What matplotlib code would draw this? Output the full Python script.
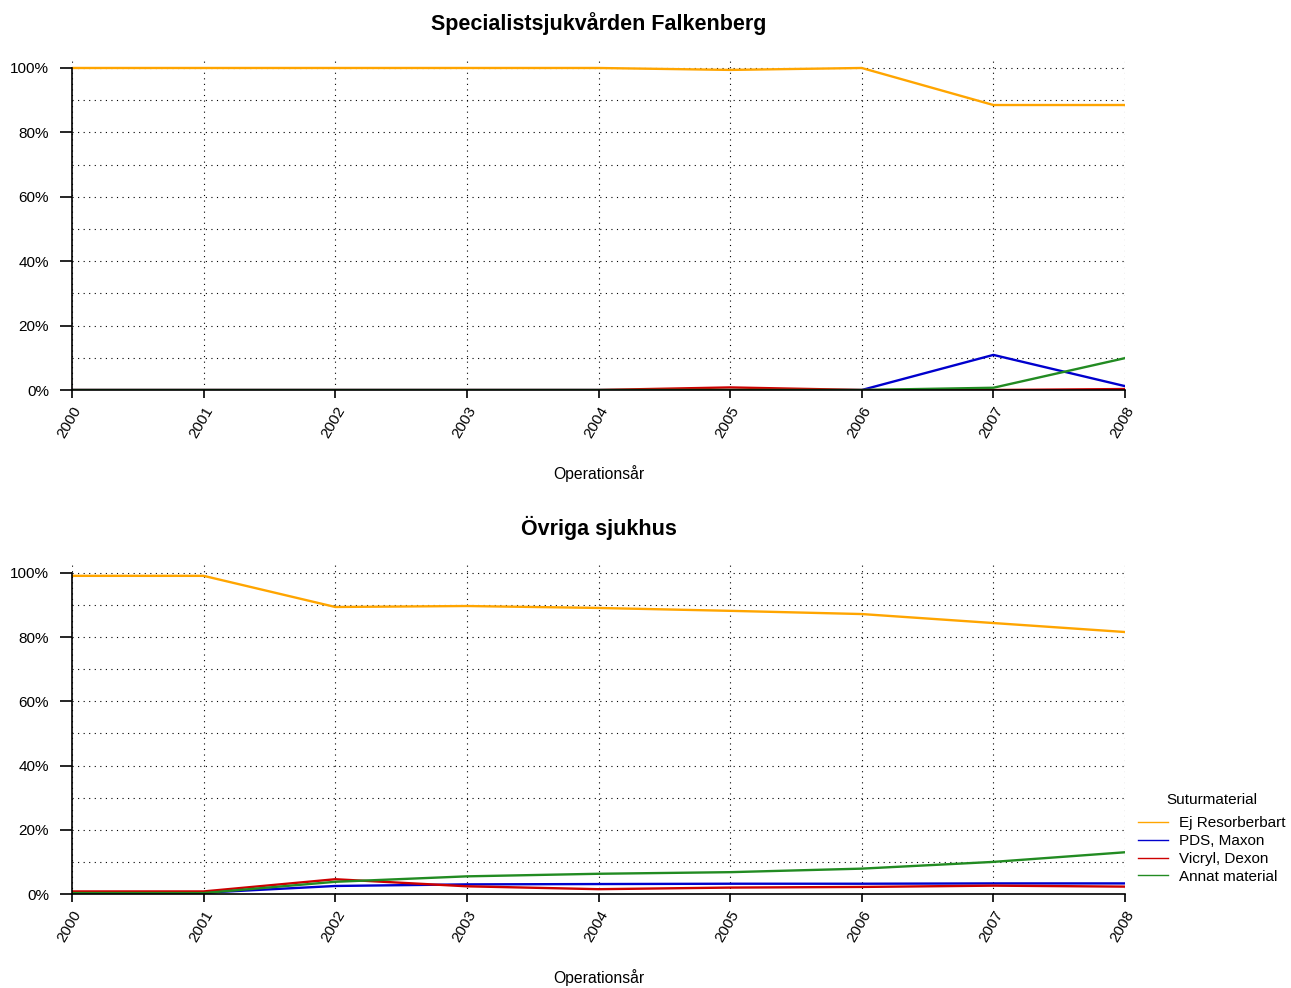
import numpy as np
import matplotlib
matplotlib.use("Agg")
import matplotlib.pyplot as plt
from matplotlib.ticker import MultipleLocator, FuncFormatter

years = [2000, 2001, 2002, 2003, 2004, 2005, 2006, 2007, 2008]
series_names = ["Ej Resorberbart", "PDS, Maxon", "Vicryl, Dexon", "Annat material"]
colors = ["#FFA500", "#0000CD", "#CD0000", "#228B22"]

# Specialistsjukvården Falkenberg (andel, %)
falk_ej = [100, 100, 100, 100, 100, 99.4, 100, 88.5, 88.5]
falk_pds = [0, 0, 0, 0, 0, 0, 0, 10.9, 1.2]
falk_vicryl = [0, 0, 0, 0, 0, 0.8, 0, 0, 0.3]
falk_annat = [0, 0, 0, 0, 0, 0, 0, 0.7, 9.9]

# Övriga sjukhus (andel, %)
ovr_ej = [99.1, 99.1, 89.4, 89.7, 89.1, 88.2, 87.2, 84.4, 81.6]
ovr_pds = [0.4, 0.4, 2.5, 3.0, 3.1, 3.2, 3.2, 3.3, 3.3]
ovr_vicryl = [0.8, 0.8, 4.6, 2.4, 1.5, 2.0, 2.2, 2.6, 2.3]
ovr_annat = [0.3, 0.3, 3.8, 5.5, 6.3, 6.8, 7.9, 10.0, 13.0]

panels = [
    ("Specialistsjukvården Falkenberg", [falk_ej, falk_pds, falk_vicryl, falk_annat]),
    ("Övriga sjukhus", [ovr_ej, ovr_pds, ovr_vicryl, ovr_annat]),
]

W, H = 1291, 988
fig = plt.figure(figsize=(W / 100, H / 100), dpi=100)
plt.rcParams["font.family"] = ["Liberation Sans", "DejaVu Sans"]

boxes = [(72, 58, 1125, 390), (72, 563, 1125, 894)]

for (title, data), (x0, y0, x1, y1) in zip(panels, boxes):
    ax = fig.add_axes([x0 / W, 1 - y1 / H, (x1 - x0) / W, (y1 - y0) / H])
    for vals, c, name in zip(data, colors, series_names):
        ax.plot(years, np.array(vals) / 100, color=c, lw=1.7, label=name, zorder=3)
    ax.set_xlim(2000, 2008)
    ax.set_ylim(0, 1.031)
    for s in ["top", "right"]:
        ax.spines[s].set_visible(False)
    ax.spines["left"].set_bounds(0, 1)
    ax.spines["left"].set_linewidth(1.2)
    ax.spines["bottom"].set_linewidth(1.2)
    ax.spines["left"].set_zorder(4)
    ax.spines["bottom"].set_zorder(4)
    ax.set_xticks(years)
    ax.set_xticklabels([str(y) for y in years], rotation=60, ha="right", va="top",
                       rotation_mode="anchor", fontsize=11)
    ax.yaxis.set_major_locator(MultipleLocator(0.2))
    ax.yaxis.set_major_formatter(FuncFormatter(lambda v, p: f"{v * 100:.0f}%"))
    ax.tick_params(axis="y", labelsize=11, length=8.5, width=1.2, pad=8)
    ax.tick_params(axis="x", length=6, width=1.2, pad=4)
    for yy in np.arange(0.1, 1.01, 0.1):
        ax.axhline(yy, color="black", lw=0.8, ls=(0, (1, 4)), zorder=1)
    for xx in years:
        ax.axvline(xx, color="black", lw=0.8, ls=(0, (1, 4)), zorder=1)
    ax.set_title(title, fontsize=15.5, fontweight="bold", pad=20.5)
    ax.set_xlabel("Operationsår", fontsize=11.3, labelpad=18)
    last_ax = ax

handles, labels = last_ax.get_legend_handles_labels()
leg = fig.legend(handles, labels, title="Suturmaterial", loc="upper left",
                 bbox_to_anchor=(1130 / W, 1 - 785 / H), frameon=False,
                 fontsize=11, title_fontsize=11, handlelength=2.0,
                 handletextpad=0.7, labelspacing=0.25, borderpad=0)
leg._legend_box.sep = 7
for ln in leg.get_lines():
    ln.set_linewidth(1.0)

fig.savefig("out.png", dpi=100)
